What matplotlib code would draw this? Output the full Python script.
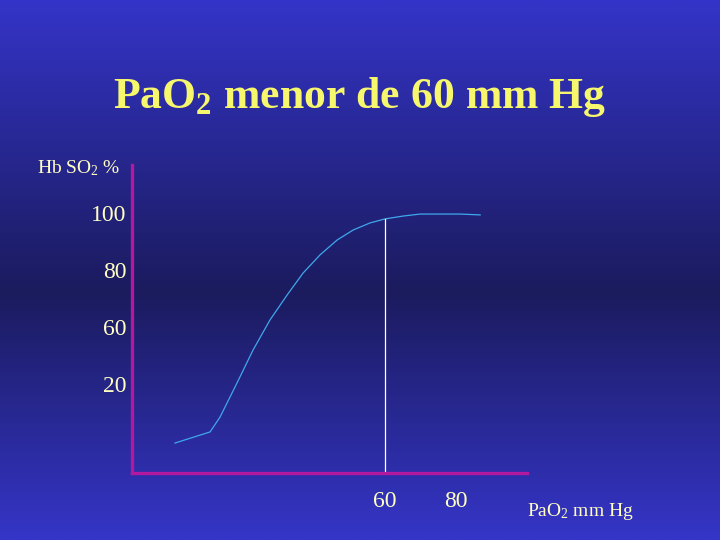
import numpy as np
import matplotlib.pyplot as plt
from matplotlib.colors import LinearSegmentedColormap

# curve (PaO2 mm Hg, Hb SO2 %)
pao2 = [0.8, 10.7, 13.5, 18.3, 22.8, 27.6, 32.4, 36.9, 41.7, 46.5, 51.0, 55.8, 60.0, 65.1, 69.9, 81.1, 86.8]
so2 = [19.3, 23.2, 28.4, 40.4, 51.9, 62.5, 71.2, 78.9, 85.3, 90.5, 94.0, 96.5, 97.9, 98.9, 99.6, 99.6, 99.3]

y_ticks = [100, 80, 60, 40]
y_labels = ['100', '80', '60', '20']   # slide labels the 4th tick "20"
x_ticks = [60, 80]
x_labels = ['60', '80']
marker_x = 60
marker_y = 97.9

plt.rcParams['font.family'] = ['Liberation Serif', 'DejaVu Serif']
plt.rcParams['mathtext.default'] = 'regular'

fig = plt.figure(figsize=(7.2, 5.4), dpi=100)

# background gradient
bg = fig.add_axes([0, 0, 1, 1], zorder=-10)
cmap = LinearSegmentedColormap.from_list('slide', [(0, '#3434c8'), (0.54, '#1b1b5e'), (1, '#3535c8')])
grad = np.linspace(0, 1, 256).reshape(-1, 1)
bg.imshow(grad, aspect='auto', cmap=cmap, extent=[0, 1, 0, 1], origin='upper')
bg.axis('off')

yellow = '#f7f76e'
pale = '#ffffc4'

fig.text(0.5, 1 - 97 / 540, r'PaO$_2$ menor de 60 mm Hg', ha='center', va='center',
         fontsize=31.5, fontweight='bold', color=yellow)
fig.text(37 / 720, 1 - 168 / 540, r'Hb SO$_2$ %', ha='left', va='center', fontsize=14, color=pale)
fig.text(527 / 720, 1 - 511 / 540, r'PaO$_2$ mm Hg', ha='left', va='center', fontsize=14, color=pale)

ax = fig.add_axes([132 / 720, 1 - 473 / 540, (527 - 132) / 720, (473 - 165) / 540])
ax.patch.set_visible(False)
ax.plot(pao2, so2, color='#3fa8ec', lw=0.9)
ax.plot([marker_x, marker_x], [8.8, marker_y], color='white', lw=0.9)

ax.set_xlim(-11.3, 100)
ax.set_ylim(8.8, 116.8)
for s in ['top', 'right']:
    ax.spines[s].set_visible(False)
for s in ['left', 'bottom']:
    ax.spines[s].set_color('#b4189f')
    ax.spines[s].set_linewidth(2.4)

ax.set_yticks(y_ticks)
ax.set_yticklabels(y_labels)
ax.set_xticks(x_ticks)
ax.set_xticklabels(x_labels)
ax.tick_params(axis='both', length=0, labelsize=17, colors=pale)
ax.tick_params(axis='y', pad=4)
ax.tick_params(axis='x', pad=13)

fig.savefig('out.png', dpi=100)
